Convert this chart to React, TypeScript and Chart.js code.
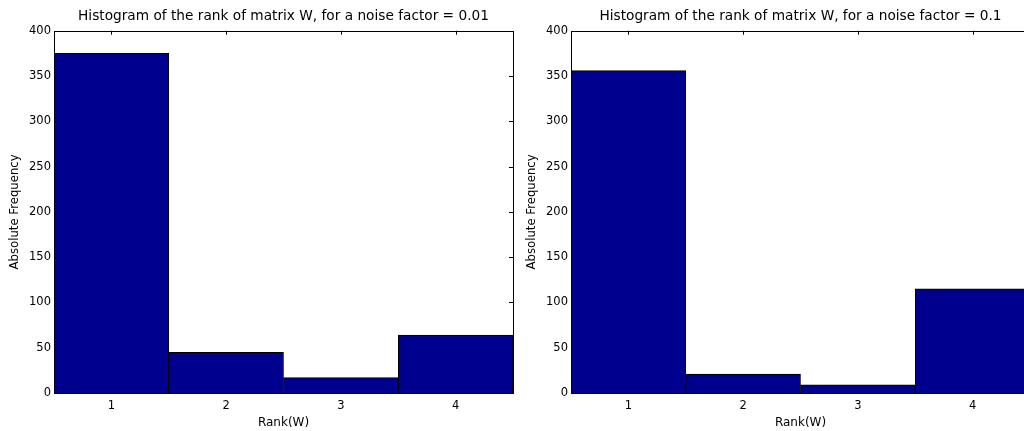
import React, { useEffect, useRef } from "react";
import { Chart, registerables } from "chart.js";

Chart.register(...registerables);

const rankLabels = ["1", "2", "3", "4"];
const countsNoise001 = [375, 45, 17, 64];
const countsNoise01 = [356, 21, 9, 115];
const yTickMax = 400;
const yTickStep = 50;
const title001 = "Histogram of the rank of matrix W, for a noise factor = 0.01";
const title01 = "Histogram of the rank of matrix W, for a noise factor = 0.1";

const FONT = "'DejaVu Sans', 'Liberation Sans', Arial, sans-serif";
const BAR_COLOR = "#00008f";

const axesBox = {
  id: "axesBox",
  beforeDatasetsDraw(chart: any) {
    const { ctx, chartArea: a, scales } = chart;
    const x = scales.x;
    const y = scales.y;
    const tl = 4;
    ctx.save();
    ctx.strokeStyle = "#000";
    ctx.lineWidth = 1;
    ctx.beginPath();
    y.ticks.forEach((_t: any, i: number) => {
      const py = Math.round(y.getPixelForTick(i)) + 0.5;
      ctx.moveTo(a.left, py);
      ctx.lineTo(a.left + tl, py);
      ctx.moveTo(a.right, py);
      ctx.lineTo(a.right - tl, py);
    });
    x.ticks.forEach((_t: any, i: number) => {
      const px = Math.round(x.getPixelForTick(i)) + 0.5;
      ctx.moveTo(px, a.top);
      ctx.lineTo(px, a.top + tl);
      ctx.moveTo(px, a.bottom);
      ctx.lineTo(px, a.bottom - tl);
    });
    ctx.stroke();
    ctx.strokeRect(
      Math.round(a.left) + 0.5,
      Math.round(a.top) + 0.5,
      Math.round(a.right - a.left),
      Math.round(a.bottom - a.top)
    );
    ctx.restore();
  },
};

function HistChart({ data, title, left }: { data: number[]; title: string; left: number }) {
  const ref = useRef<HTMLCanvasElement>(null);
  useEffect(() => {
    if (!ref.current) return;
    const chart = new Chart(ref.current, {
      type: "bar",
      data: {
        labels: rankLabels,
        datasets: [
          {
            data,
            backgroundColor: BAR_COLOR,
            borderColor: "#000",
            borderWidth: 1,
            barPercentage: 1,
            categoryPercentage: 1,
          },
        ],
      },
      plugins: [axesBox],
      options: {
        responsive: false,
        animation: false,
        layout: { padding: { left: 0, right: 7, top: 0, bottom: 0 } },
        plugins: {
          legend: { display: false },
          tooltip: { enabled: false },
          title: {
            display: true,
            text: title,
            fullSize: false,
            color: "#000",
            font: { family: FONT, size: 13.7, weight: "normal", lineHeight: 1.2 },
            padding: { top: 8.3, bottom: 6 },
          },
        },
        scales: {
          x: {
            type: "category",
            offset: true,
            grid: { display: false, drawTicks: false },
            border: { display: false },
            ticks: { color: "#000", padding: 6, font: { family: FONT, size: 11.5, lineHeight: 1.2 } },
            title: {
              display: true,
              text: "Rank(W)",
              color: "#000",
              font: { family: FONT, size: 12, lineHeight: 1.2 },
              padding: { top: 0, bottom: 1 },
            },
            afterFit: (s: any) => {
              s.height = 38;
            },
          },
          y: {
            type: "linear",
            min: 0,
            max: yTickMax,
            grid: { display: false, drawTicks: false },
            border: { display: false },
            ticks: {
              stepSize: yTickStep,
              color: "#000",
              padding: 3,
              font: { family: FONT, size: 11.5 },
            },
            title: {
              display: true,
              text: "Absolute Frequency",
              color: "#000",
              font: { family: FONT, size: 11.7, lineHeight: 1.2 },
              padding: { top: 8, bottom: 0 },
            },
            afterFit: (s: any) => {
              s.width = 54;
            },
          },
        },
      },
    } as any);
    return () => chart.destroy();
  }, [data, title]);
  return (
    <canvas
      ref={ref}
      width={520}
      height={431}
      style={{ position: "absolute", left, top: 0, width: 520, height: 431 }}
    />
  );
}

export default function App() {
  return (
    <div
      style={{
        position: "absolute",
        left: 0,
        top: 0,
        width: 1024,
        height: 431,
        overflow: "hidden",
        background: "#fff",
      }}
    >
      <HistChart data={countsNoise001} title={title001} left={0} />
      <HistChart data={countsNoise01} title={title01} left={517} />
    </div>
  );
}
